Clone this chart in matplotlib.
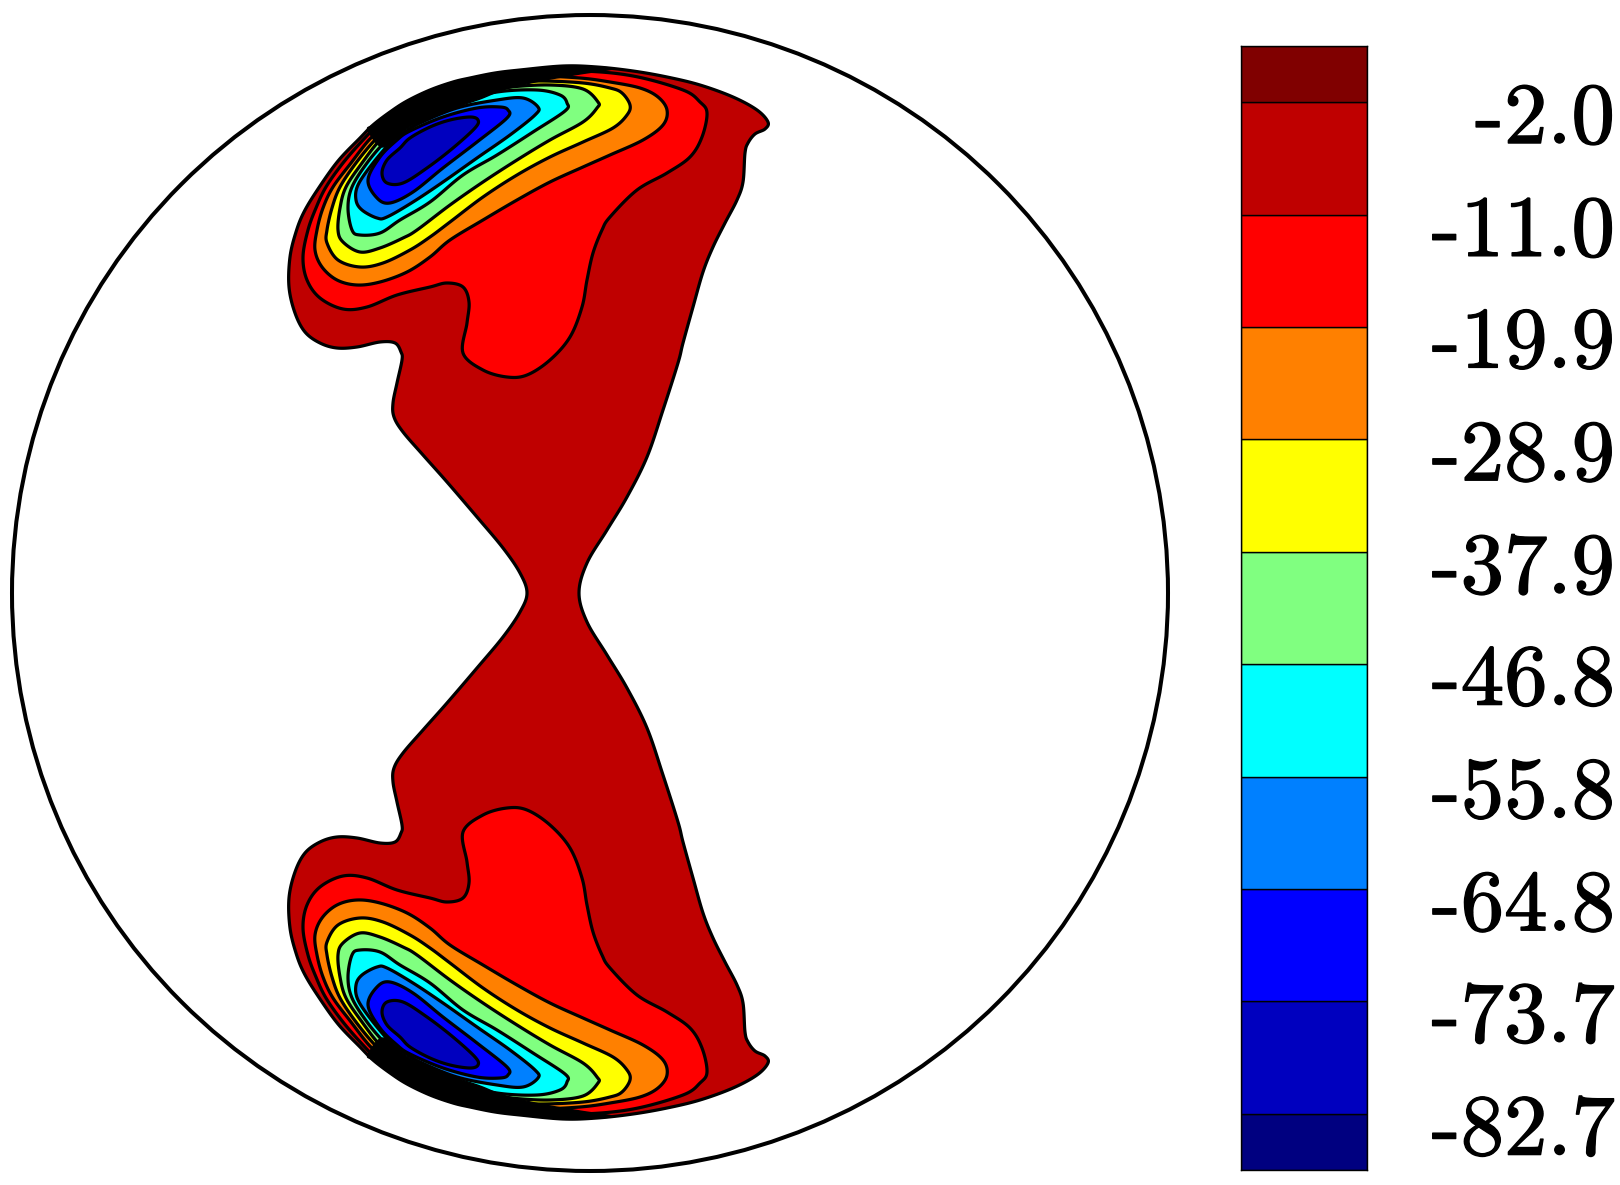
from matplotlib import pyplot as plt
from matplotlib.patches import Circle
import matplotlib.patheffects as pe
import numpy as np

levels = [-2.0, -11.0, -19.9, -28.9, -37.9, -46.8, -55.8, -64.8, -73.7, -82.7]
level_labels = ['-2.0', '-11.0', '-19.9', '-28.9', '-37.9', '-46.8', '-55.8', '-64.8', '-73.7', '-82.7']
band_colors = ['#800000', '#bf0000', '#ff0000', '#ff8000', '#ffff00', '#80ff80',
               '#00ffff', '#0080ff', '#0000ff', '#0000bf', '#000080']
cbar_low, cbar_high = -87.18, 2.49

outline_top = [(527, 593), (520, 573), (503, 548), (477, 517), (447, 482), (423, 455), (403, 432),
               (394, 417), (393, 403), (397, 383), (402, 360), (401, 352), (395, 343), (380, 342),
               (357, 347), (337, 348), (320, 343), (305, 332), (295, 313), (289, 287), (290, 257),
               (296, 232), (304, 212), (318, 189), (338, 161), (360, 138), (373, 125), (390, 112),
               (407, 101), (430, 90), (453, 82), (470, 78), (495, 73), (520, 70), (563, 66), (597, 67),
               (633, 71), (667, 77), (700, 85), (733, 97), (757, 110), (768, 122), (765, 129), (755, 134),
               (748, 143), (745, 153), (743, 182), (737, 200), (725, 223), (713, 247), (703, 272),
               (693, 307), (683, 343), (678, 363), (663, 410), (647, 457), (627, 497), (607, 530),
               (587, 563), (579, 593)]

line_11 = [(470, 81), (520, 73), (580, 71), (633, 76), (683, 90), (700, 102), (707, 113), (702, 137),
           (690, 157), (667, 173), (637, 190), (610, 217), (602, 230), (593, 253), (587, 280),
           (582, 307), (570, 337), (550, 360), (527, 375), (507, 377), (483, 370), (463, 353),
           (467, 323), (469, 302), (463, 287), (447, 283), (430, 287), (397, 295), (367, 307),
           (343, 309), (320, 298), (307, 280), (303, 257), (308, 230), (316, 208), (326, 187),
           (343, 163), (363, 140), (380, 123), (395, 113), (430, 93)]
line_20 = [(470, 85), (510, 78), (537, 76), (580, 78), (610, 82), (640, 88), (658, 97), (667, 110),
           (663, 125), (643, 140), (610, 155), (583, 167), (550, 182), (517, 200), (483, 220),
           (450, 240), (430, 257), (407, 272), (380, 282), (357, 285), (337, 280), (322, 267),
           (315, 250), (317, 230), (323, 208), (333, 187), (351, 163), (369, 140), (384, 127),
           (400, 116), (430, 96)]
line_29 = [(470, 89), (510, 83), (540, 81), (583, 83), (610, 88), (622, 93), (630, 105), (627, 115),
           (613, 128), (583, 142), (550, 157), (517, 175), (483, 197), (450, 222), (430, 237),
           (410, 250), (383, 263), (360, 267), (338, 260), (327, 243), (327, 230), (332, 208),
           (340, 187), (356, 163), (375, 140), (388, 130), (405, 120), (430, 100)]
line_38 = [(470, 92), (510, 87), (550, 85), (583, 89), (598, 102), (597, 108), (583, 122), (550, 140),
           (517, 160), (483, 182), (450, 205), (417, 230), (403, 238), (380, 248), (360, 252),
           (343, 242), (338, 230), (340, 208), (346, 187), (362, 163), (380, 140), (393, 132),
           (410, 122), (430, 105)]
line_47 = [(420, 118), (457, 102), (497, 92), (537, 90), (560, 95), (567, 103), (565, 111), (533, 132),
           (497, 155), (463, 175), (430, 202), (400, 220), (380, 233), (360, 235), (352, 230),
           (348, 208), (352, 187), (367, 163), (384, 143), (397, 133)]
line_56 = [(420, 123), (457, 108), (497, 100), (523, 98), (538, 107), (535, 115), (510, 135), (477, 158),
           (443, 182), (413, 202), (387, 217), (377, 218), (362, 210), (356, 200), (358, 185),
           (373, 163), (393, 140), (405, 132)]
line_65 = [(410, 131), (443, 117), (477, 108), (500, 107), (508, 110), (507, 118), (477, 142), (443, 168),
           (413, 192), (390, 203), (377, 198), (368, 180), (380, 157), (397, 140)]
line_74 = [(410, 138), (430, 127), (450, 120), (470, 117), (478, 120), (475, 128), (453, 148), (427, 168),
           (403, 183), (387, 183), (382, 173), (387, 160), (400, 148)]

# where the contours pile up against the edge the picture is solid black
merged_band = [(368, 130), (373, 125), (390, 112), (407, 101), (430, 90), (453, 82), (470, 78), (495, 73),
               (520, 70), (563, 66), (597, 67), (612, 69), (580, 74), (540, 81), (510, 88), (497, 92),
               (480, 99), (457, 107), (420, 122), (405, 130), (383, 147)]

contours = [line_11, line_20, line_29, line_38, line_47, line_56, line_65, line_74]
contour_colors = band_colors[2:10]

W, H = 1620, 1185
mirror_sum = 1185


def smooth(points, n=12):
    # closed catmull-rom so the traced lines don't look like polygons
    p = np.array(points, dtype=float)
    out = []
    for i in range(len(p)):
        p0, p1, p2, p3 = p[i - 1], p[i], p[(i + 1) % len(p)], p[(i + 2) % len(p)]
        for t in np.linspace(0, 1, n, endpoint=False):
            out.append(0.5 * (2 * p1 + (p2 - p0) * t + (2 * p0 - 5 * p1 + 4 * p2 - p3) * t ** 2
                              + (3 * p1 - p0 - 3 * p2 + p3) * t ** 3))
    return np.array(out)


fig = plt.figure(figsize=(W / 100, H / 100), dpi=100)
ax = fig.add_axes([0, 0, 1, 1])
ax.set_xlim(0, W)
ax.set_ylim(H, 0)
ax.axis('off')

ax.add_patch(Circle((590, 593), 578, fill=False, edgecolor='black', linewidth=2.9))

line_w = 2.3
outline = outline_top + [(x, mirror_sum - y) for x, y in outline_top[-2:0:-1]]
xy = smooth(outline)
ax.fill(xy[:, 0], xy[:, 1], facecolor=band_colors[1], edgecolor='black', linewidth=line_w)

for pts, col in zip(contours, contour_colors):
    xy = smooth(pts)
    ax.fill(xy[:, 0], xy[:, 1], facecolor=col, edgecolor='black', linewidth=line_w, joinstyle='round')
    ax.fill(xy[:, 0], mirror_sum - xy[:, 1], facecolor=col, edgecolor='black', linewidth=line_w, joinstyle='round')

xy = smooth(merged_band)
ax.fill(xy[:, 0], xy[:, 1], color='black', linewidth=1)
ax.fill(xy[:, 0], mirror_sum - xy[:, 1], color='black', linewidth=1)

# colour bar, drawn in level units
cax = fig.add_axes([1241 / W, 1 - 1170 / H, 126 / W, 1124 / H])
edges = [cbar_low] + levels[::-1] + [cbar_high]
cax.bar(0.5, np.diff(edges), width=1, bottom=edges[:-1], color=band_colors[::-1],
        edgecolor='black', linewidth=1.0)
cax.set_xlim(0, 1)
cax.set_ylim(cbar_low, cbar_high)
cax.set_xticks([])
cax.set_yticks([])
for s in cax.spines.values():
    s.set_linewidth(1.0)

for lev, lab in zip(levels, level_labels):
    cax.annotate(lab, xy=(1, lev), xycoords=('axes fraction', 'data'), xytext=(248, -19),
                 textcoords='offset pixels', ha='right', va='center', fontsize=62.5,
                 family='cmr10', color='black', annotation_clip=False,
                 path_effects=[pe.withStroke(linewidth=1.0, foreground='black')])

plt.savefig('out.png', dpi=100)
